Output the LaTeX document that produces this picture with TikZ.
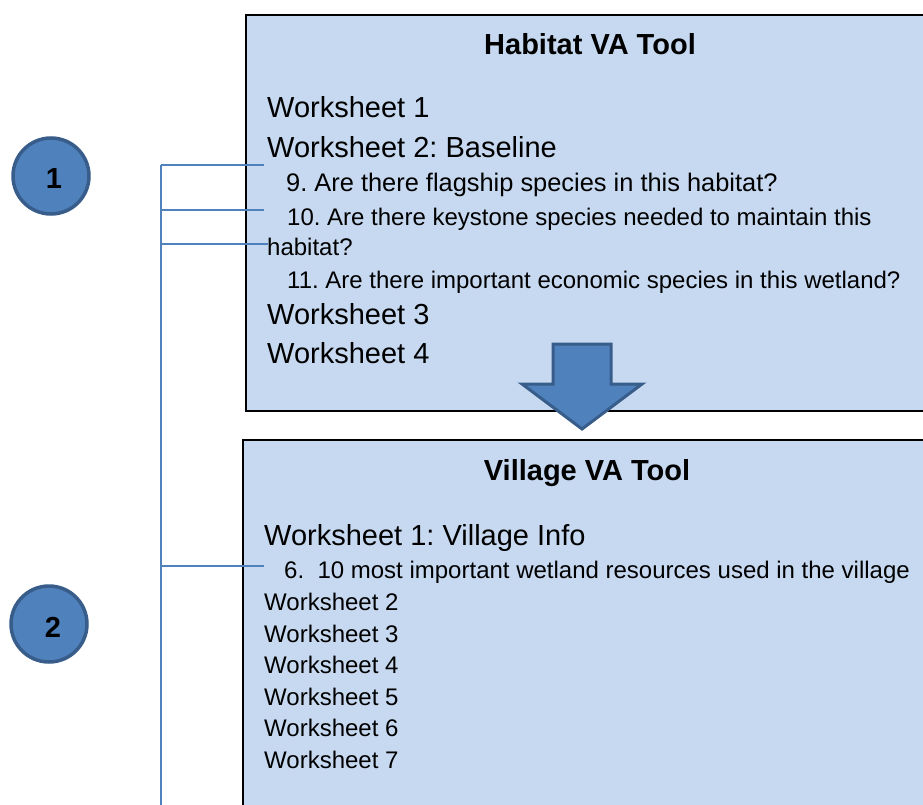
\documentclass[tikz,border=0pt]{standalone}
\usepackage{fontspec}
\setmainfont{Liberation Sans}
\frenchspacing
\definecolor{boxfill}{RGB}{198,217,240}
\definecolor{accent}{RGB}{79,129,189}
\definecolor{accentdark}{RGB}{56,93,138}
\tikzset{
  panel/.style={draw=black, line width=1.8pt, fill=boxfill},
  ttl/.style={anchor=base, inner sep=0pt, font=\fontsize{29}{33}\selectfont\bfseries},
  big/.style={anchor=base west, inner sep=0pt, font=\fontsize{29}{34}\selectfont},
  small/.style={anchor=base west, inner sep=0pt, font=\fontsize{24}{28}\selectfont},
  badge/.style={circle, minimum size=76pt, inner sep=0pt, fill=accent, draw=accentdark, line width=3.5pt},
  badgetext/.style={inner sep=0pt, font=\fontsize{29}{33}\selectfont\bfseries},
  bracket/.style={draw=accent, line width=1.5pt},
  bigarrow/.style={fill=accent, draw=accentdark, line width=3pt, line join=miter}
}
\begin{document}
\begin{tikzpicture}[x=1pt,y=-1pt]
\frenchspacing
\useasboundingbox (0,0) rectangle (923,805);
\clip (0,0) rectangle (923,805);
% panels
\draw[panel] (246,15) rectangle (960,411);
\draw[panel] (243,440) rectangle (960,840);
% habitat panel text
\node[ttl] (t1) at (590,55) {Habitat VA Tool};
\node[big] (h1) at (267,118) {Worksheet 1};
\node[big] (h2) at (267,158) {Worksheet 2: Baseline};
\node[small, font=\fontsize{25.4}{29}\selectfont] (q9) at (286,192) {9. Are there flagship species in this habitat?};
\node[small] (q10) at (287,225) {10. Are there keystone species needed to maintain this};
\node[small] (q10b) at (267,255) {habitat?};
\node[small] (q11) at (287,288) {11. Are there important economic species in this wetland?};
\node[big] (h3) at (267,324) {Worksheet 3};
\node[big] (h4) at (267,363) {Worksheet 4};
% arrow
\draw[bigarrow] (553,344) -- (611,344) -- (611,384) -- (642,384) -- (582,429) -- (522,384) -- (553,384) -- cycle;
% village panel text
\node[ttl] (t2) at (587,480) {Village VA Tool};
\node[big] (v1) at (264,545) {Worksheet 1: Village Info};
\node[small] (v6) at (284,578) {6.\ \ 10 most important wetland resources used in the village};
\node[small] (v2) at (264,610) {Worksheet 2};
\node[small] (v3) at (264,642) {Worksheet 3};
\node[small] (v4) at (264,673.5) {Worksheet 4};
\node[small] (v5) at (264,705) {Worksheet 5};
\node[small] (v7a) at (264,736.5) {Worksheet 6};
\node[small] (v7) at (264,768) {Worksheet 7};
% badges
\node[badge] (c1) at (51,176) {};
\node[badgetext] (n1) at (54,179) {1};
\node[badge] (c2) at (49,624) {};
\node[badgetext] (n2) at (53,627) {2};
% bracket
\coordinate (btop) at (161,165);
\coordinate (bbot) at (161,806);
\coordinate (e1) at (264,165);
\coordinate (s2) at (161,210);
\coordinate (e2) at (264,210);
\coordinate (s3) at (161,244);
\coordinate (e3) at (268,244);
\coordinate (s4) at (161,566);
\coordinate (e4) at (264,566);
\draw[bracket] (btop) -- (bbot);
\draw[bracket] (btop) -- (e1);
\draw[bracket] (s2) -- (e2);
\draw[bracket] (s3) -- (e3);
\draw[bracket] (s4) -- (e4);
\end{tikzpicture}
\end{document}
